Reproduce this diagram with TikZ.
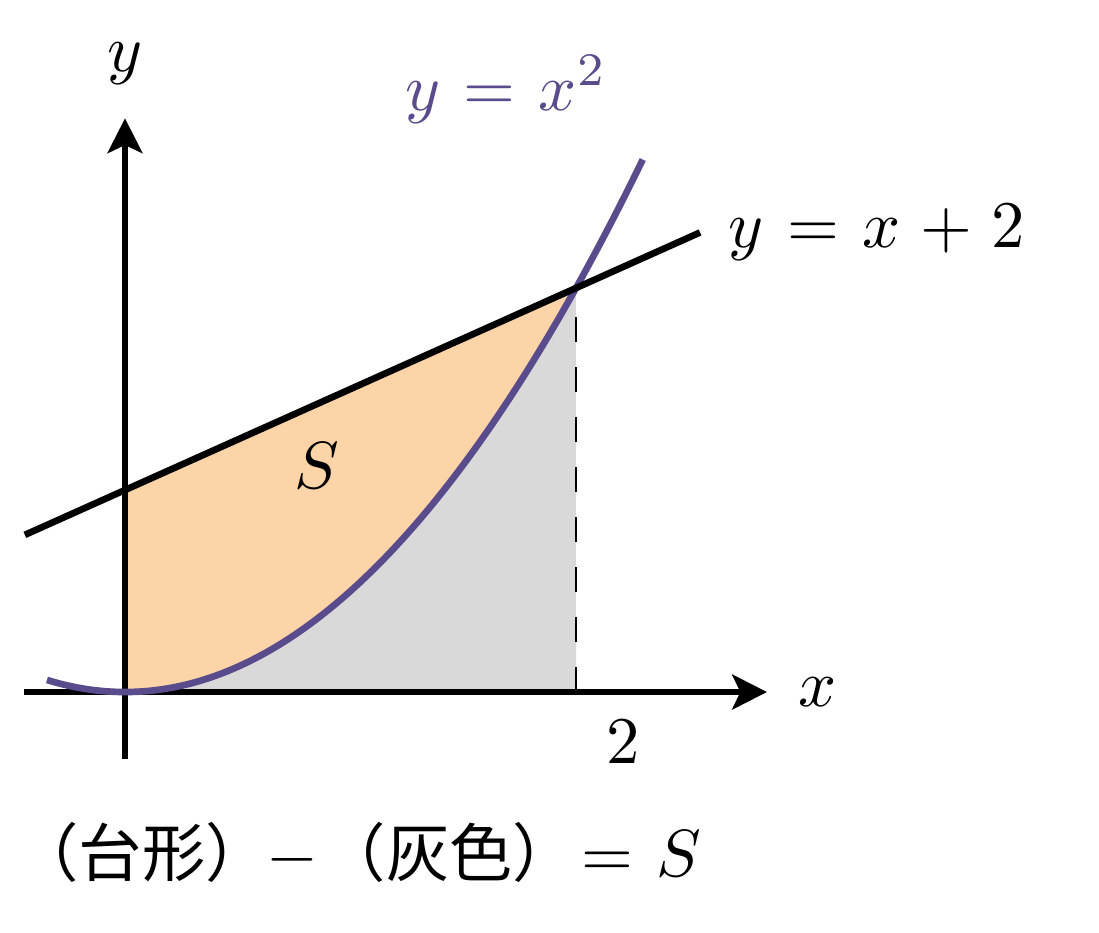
\documentclass[tikz,border=0pt]{standalone}
\usepackage{fontspec}
\newfontfamily\cjkfont{Noto Sans CJK JP}
\usetikzlibrary{arrows.meta}
\definecolor{fillorange}{RGB}{252,212,168}
\definecolor{fillgray}{RGB}{217,217,217}
\definecolor{curvepurple}{RGB}{90,75,140}
\thickmuskip=6.3mu plus 5mu
\medmuskip=5.3mu plus 2mu minus 4mu
\tikzset{
  axisline/.style={line width=1pt, -{Stealth[length=5.2pt,width=5.2pt,inset=1.2pt]}},
  curveline/.style={line width=1pt, curvepurple},
  straightline/.style={line width=1pt, black},
  guideline/.style={line width=0.4pt, dash pattern=on 3.75pt off 3.75pt},
  lbl/.style={inner sep=0pt, outer sep=0pt}
}
\begin{document}
\begin{tikzpicture}[x=33.825pt, y=15.15pt]
\useasboundingbox (-0.5543,-2.3762) rectangle (4.3193,6.8515);
% fills
\fill[fillgray] (0,0) -- plot[domain=0:2, samples=60] (\x,{\x*\x}) -- (2,0) -- cycle;
\fill[fillorange] (0,2) -- (2,4) -- plot[domain=2:0, samples=60] (\x,{\x*\x}) -- cycle;
% key points
\coordinate (O) at (0,0);
\coordinate (P) at (2,4);
\coordinate (Xfoot) at (2,0);
\coordinate (xs) at (-0.448,0);
\coordinate (xe) at (2.847,0);
\coordinate (ys) at (0,-0.663);
\coordinate (ye) at (0,5.68);
\coordinate (ls) at (-0.444,1.556);
\coordinate (le) at (2.55,4.55);
% dashed guide
\draw[guideline] (Xfoot) -- (P);
% axes
\draw[axisline] (xs) -- (xe);
\draw[axisline] (ys) -- (ye);
% parabola
\draw[curveline] plot[domain=-0.346:2.297, samples=100] (\x,{\x*\x});
% line
\draw[straightline] (ls) -- (le);
% labels
\node[lbl] (ylab) at (0,6.22) {$y$};
\node[lbl] (xlab) at (3.073,0) {$x$};
\node[lbl] (two) at (2.208,-0.495) {$2$};
\node[lbl] (linelab) at (3.335,4.554) {$y=x+2$};
\node[lbl, anchor=base, text=curvepurple] (parlab) at (1.69,5.762) {$y=x^2$};
\node[lbl] (S) at (0.851,2.238) {$S$};
\node[lbl, anchor=base west] (eq) at (-0.485,-1.827) {{\cjkfont\fontsize{9.5pt}{11pt}\selectfont （台形）}\kern-0.3pt$-$\kern0.6pt{\cjkfont\fontsize{9.5pt}{11pt}\selectfont （灰色）}\kern0.8pt$=S$};
\end{tikzpicture}
\end{document}
